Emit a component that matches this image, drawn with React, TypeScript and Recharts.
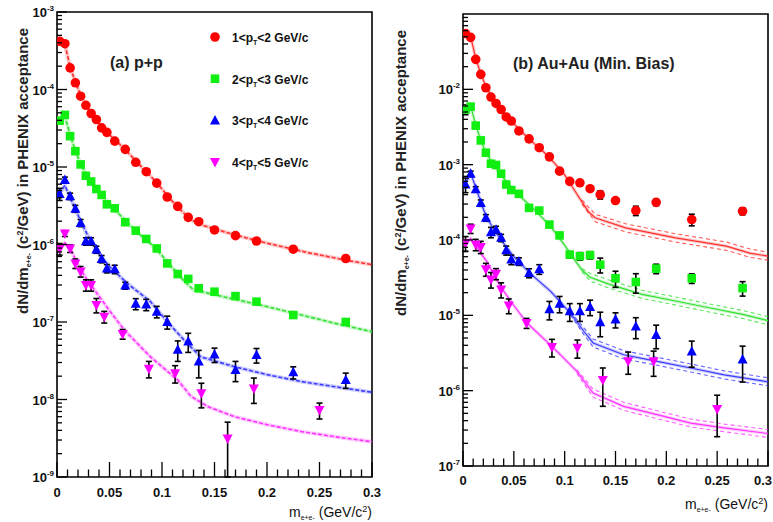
import { ComposedChart, Scatter, Line, XAxis, YAxis, ErrorBar, ReferenceArea } from "recharts";

// [x, y, errLow?, errHigh?]
type Pt = [number, number, number?, number?];
type CurvePt = [number, number];
type BandPt = [number, number, number];

const FONT = "'Liberation Sans', Arial, Helvetica, sans-serif";

const X_TICKS = [
  0, 0.01, 0.02, 0.03, 0.04, 0.05, 0.06, 0.07, 0.08, 0.09, 0.1, 0.11, 0.12, 0.13, 0.14, 0.15,
  0.16, 0.17, 0.18, 0.19, 0.2, 0.21, 0.22, 0.23, 0.24, 0.25, 0.26, 0.27, 0.28, 0.29, 0.3,
];
const MANTISSAS = [1, 2, 3, 4, 5, 6, 7, 8, 9];
const PP_DECADES = [-9, -8, -7, -6, -5, -4];
const AA_DECADES = [-7, -6, -5, -4, -3, -2];
const PP_Y_TICKS = [...PP_DECADES.flatMap((d) => MANTISSAS.map((m) => m * 10 ** d)), 1e-3];
const AA_Y_TICKS = AA_DECADES.flatMap((d) => MANTISSAS.map((m) => m * 10 ** d));

const PT_BINS = [
  ["1", "2"],
  ["2", "3"],
  ["3", "4"],
  ["4", "5"],
];

// ---------- p+p ----------
const PP_RED: Pt[] = [
  [0.0025, 4.2e-4], [0.0075, 3.9e-4], [0.0125, 1.9e-4], [0.0175, 1.22e-4], [0.0225, 8.2e-5],
  [0.0275, 6.25e-5], [0.0325, 4.9e-5], [0.0375, 4.1e-5], [0.0425, 3.2e-5], [0.0475, 2.8e-5],
  [0.055, 2.16e-5], [0.065, 1.69e-5], [0.075, 1.15e-5], [0.085, 8.7e-6], [0.095, 6.2e-6],
  [0.105, 4.1e-6], [0.115, 3.1e-6], [0.125, 2.24e-6], [0.135, 1.97e-6], [0.15, 1.54e-6],
  [0.17, 1.3e-6], [0.19, 1.11e-6], [0.225, 8.7e-7], [0.275, 6.6e-7],
];
const PP_GREEN: Pt[] = [
  [0.0025, 3.96e-5], [0.0075, 4.7e-5], [0.0125, 2.5e-5], [0.0175, 1.6e-5], [0.0225, 1.08e-5],
  [0.0275, 7.7e-6], [0.0325, 6.5e-6], [0.0375, 5.2e-6], [0.0425, 4.36e-6], [0.0475, 3.3e-6],
  [0.055, 2.93e-6], [0.065, 1.94e-6], [0.075, 1.51e-6], [0.085, 1.18e-6], [0.095, 8.9e-7],
  [0.105, 5.7e-7], [0.115, 4.16e-7], [0.125, 3.6e-7], [0.135, 2.72e-7], [0.15, 2.46e-7],
  [0.17, 2.16e-7], [0.19, 1.83e-7], [0.225, 1.23e-7], [0.275, 1.0e-7],
];
const PP_BLUE: Pt[] = [
  [0.0025, 4.5e-6, 8e-7], [0.0075, 6.8e-6, 6e-7], [0.0125, 4.2e-6, 4e-7], [0.0175, 2.9e-6, 3e-7],
  [0.0225, 1.9e-6, 2e-7], [0.0275, 1.1e-6, 1.2e-7], [0.0325, 1.1e-6, 1.2e-7], [0.0375, 8.6e-7, 9e-8],
  [0.0425, 6.5e-7, 7e-8], [0.0475, 4.9e-7, 6e-8], [0.055, 4.8e-7, 6e-8], [0.065, 2.95e-7, 3e-8],
  [0.075, 1.72e-7, 2.8e-8], [0.085, 1.68e-7, 2.8e-8], [0.095, 1.36e-7, 2.3e-8], [0.105, 1.0e-7, 1.9e-8],
  [0.115, 4.4e-8, 1.3e-8], [0.125, 5.6e-8, 1.55e-8], [0.135, 3.1e-8, 1.2e-8], [0.15, 3.8e-8, 8e-9],
  [0.17, 2.4e-8, 7e-9], [0.19, 3.75e-8, 8e-9], [0.225, 2.24e-8, 4e-9], [0.275, 1.79e-8, 4e-9],
];
const PP_MAGENTA: Pt[] = [
  [0.0025, 8.8e-7, 1.5e-7], [0.0075, 1.39e-6, 1.2e-7], [0.0125, 8.9e-7, 1e-7], [0.0175, 5.7e-7, 8e-8],
  [0.0225, 4.5e-7, 7e-8], [0.0275, 3.0e-7, 5e-8], [0.0325, 3.0e-7, 5e-8], [0.0375, 1.66e-7, 3.5e-8],
  [0.045, 1.17e-7, 2e-8], [0.0625, 7.0e-8, 1e-8], [0.0875, 2.5e-8, 6e-9], [0.1125, 2.18e-8, 5.5e-9],
  [0.1375, 1.2e-8, 4.2e-9], [0.1625, 3.15e-9, 2.15e-9, 1.95e-9], [0.1875, 1.39e-8, 5e-9],
  [0.25, 7.3e-9, 1.7e-9],
];

const PP_RED_CURVE: CurvePt[] = [
  [0.0025, 4.1e-4], [0.0075, 3.85e-4], [0.0125, 1.95e-4], [0.0175, 1.25e-4], [0.0225, 8.5e-5],
  [0.03, 5.6e-5], [0.04, 3.7e-5], [0.05, 2.6e-5], [0.06, 1.95e-5], [0.07, 1.42e-5], [0.08, 1.02e-5],
  [0.09, 7.4e-6], [0.1, 5.2e-6], [0.11, 3.6e-6], [0.12, 2.6e-6], [0.13, 2.0e-6], [0.14, 1.75e-6],
  [0.16, 1.45e-6], [0.18, 1.22e-6], [0.2, 1.04e-6], [0.22, 9.0e-7], [0.24, 7.8e-7], [0.26, 6.9e-7],
  [0.28, 6.1e-7], [0.3, 5.5e-7],
];
const PP_GREEN_CURVE: CurvePt[] = [
  [0.0025, 3.9e-5], [0.0075, 4.5e-5], [0.0125, 2.6e-5], [0.0175, 1.6e-5], [0.0225, 1.1e-5],
  [0.03, 7.0e-6], [0.04, 4.8e-6], [0.05, 3.3e-6], [0.06, 2.4e-6], [0.07, 1.75e-6], [0.08, 1.3e-6],
  [0.09, 1.0e-6], [0.1, 7.2e-7], [0.11, 5.0e-7], [0.12, 3.5e-7], [0.13, 2.6e-7], [0.15, 2.25e-7],
  [0.17, 1.95e-7], [0.2, 1.58e-7], [0.233, 1.23e-7], [0.265, 9.6e-8], [0.3, 7.5e-8],
];
const PP_BLUE_CURVE: CurvePt[] = [
  [0.0025, 4.5e-6], [0.0075, 5.8e-6], [0.0125, 4.0e-6], [0.0175, 2.9e-6], [0.0225, 2.0e-6],
  [0.03, 1.25e-6], [0.04, 7.6e-7], [0.05, 5.2e-7], [0.067, 3.15e-7], [0.089, 1.83e-7],
  [0.108, 9.1e-8], [0.124, 5.3e-8], [0.137, 3.55e-8], [0.169, 2.65e-8], [0.201, 2.08e-8],
  [0.233, 1.7e-8], [0.265, 1.46e-8], [0.3, 1.24e-8],
];
const PP_MAGENTA_CURVE: CurvePt[] = [
  [0.0025, 8.7e-7], [0.0075, 1.05e-6], [0.0125, 9.0e-7], [0.019, 5.8e-7], [0.028, 3.6e-7],
  [0.038, 2.35e-7], [0.05, 1.4e-7], [0.064, 7.9e-8], [0.089, 3.55e-8], [0.115, 1.78e-8],
  [0.1275, 1.1e-8], [0.1435, 8.1e-9], [0.169, 6.0e-9], [0.201, 4.7e-9], [0.233, 3.85e-9],
  [0.265, 3.3e-9], [0.3, 2.85e-9],
];

// ---------- Au+Au ----------
const AA_RED: Pt[] = [
  [0.0025, 5.5e-2], [0.0075, 4.9e-2], [0.0125, 2.5e-2], [0.0175, 1.58e-2], [0.0225, 1.05e-2],
  [0.0275, 7.9e-3], [0.0325, 6.5e-3], [0.0375, 5.4e-3], [0.0425, 4.3e-3], [0.0475, 3.8e-3],
  [0.055, 2.8e-3], [0.065, 2.2e-3], [0.075, 1.68e-3], [0.085, 1.27e-3], [0.095, 8.2e-4],
  [0.105, 6.0e-4], [0.115, 5.75e-4], [0.125, 4.8e-4], [0.135, 4.0e-4, 5e-5], [0.15, 3.34e-4],
  [0.17, 2.46e-4, 3.5e-5], [0.19, 3.16e-4, 3e-5], [0.225, 1.87e-4, 3.3e-5], [0.275, 2.41e-4, 2.5e-5],
];
const AA_GREEN: Pt[] = [
  [0.0025, 5.4e-3, 8e-4], [0.0075, 5.9e-3], [0.0125, 3.3e-3], [0.0175, 2.1e-3], [0.0225, 1.44e-3],
  [0.0275, 1.03e-3], [0.0325, 9.9e-4], [0.0375, 7.6e-4], [0.0425, 5.45e-4], [0.0475, 4.6e-4],
  [0.055, 4.1e-4], [0.065, 2.67e-4], [0.075, 2.46e-4], [0.085, 1.6e-4], [0.095, 1.15e-4],
  [0.105, 6.4e-5, 6e-6], [0.115, 6.1e-5, 7e-6], [0.125, 6.3e-5, 7e-6], [0.135, 4.7e-5, 1.05e-5],
  [0.15, 3.1e-5, 7.5e-6], [0.17, 2.77e-5, 8e-6], [0.19, 4.17e-5, 6e-6], [0.225, 3.1e-5, 4.5e-6],
  [0.275, 2.3e-5, 5e-6],
];
const AA_BLUE: Pt[] = [
  [0.0025, 5.45e-4, 1.2e-4], [0.0075, 7.6e-4, 6e-5], [0.0125, 4.7e-4, 4e-5], [0.0175, 3.1e-4, 3e-5],
  [0.0225, 1.97e-4, 2e-5], [0.0275, 1.27e-4, 2e-5], [0.0325, 1.37e-4, 1.5e-5], [0.0375, 1.07e-4, 1.2e-5],
  [0.0425, 7.3e-5, 1e-5], [0.0475, 5.5e-5, 8e-6], [0.055, 5.2e-5, 6e-6], [0.065, 3.65e-5, 5e-6],
  [0.075, 4.1e-5, 6e-6], [0.085, 1.2e-5, 3.3e-6], [0.095, 1.43e-5, 3.5e-6], [0.105, 1.13e-5, 3e-6],
  [0.115, 1.13e-5, 3e-6], [0.125, 1.29e-5, 3e-6], [0.135, 8.1e-6, 2.9e-6], [0.15, 8.8e-6, 2e-6],
  [0.17, 7.1e-6, 2.2e-6], [0.19, 5.5e-6, 1.9e-6], [0.225, 3.3e-6, 1.25e-6], [0.275, 2.6e-6, 1.3e-6],
];
const AA_MAGENTA: Pt[] = [
  [0.0025, 9.1e-5, 2e-5], [0.0075, 1.42e-4, 2e-5], [0.0125, 8.7e-5, 1.5e-5], [0.0175, 8.1e-5, 1.5e-5],
  [0.0225, 4.1e-5, 8e-6], [0.0275, 3.0e-5, 7e-6], [0.0325, 3.57e-5, 6e-6], [0.0375, 2.2e-5, 5e-6],
  [0.045, 1.35e-5, 3e-6], [0.0625, 7.9e-6, 1.2e-6], [0.0875, 3.8e-6, 1e-6], [0.1125, 3.7e-6, 1e-6],
  [0.1375, 1.39e-6, 7.7e-7, 6.1e-7], [0.1625, 2.45e-6, 8e-7], [0.1875, 2.45e-6, 9e-7],
  [0.25, 5.7e-7, 3.25e-7, 3.0e-7],
];

const AA_RED_CURVE: CurvePt[] = [
  [0.0025, 5.5e-2], [0.0075, 5.0e-2], [0.0125, 2.6e-2], [0.0175, 1.6e-2], [0.0225, 1.1e-2],
  [0.03, 7.3e-3], [0.04, 4.9e-3], [0.05, 3.5e-3], [0.06, 2.55e-3], [0.07, 1.9e-3], [0.08, 1.45e-3],
  [0.09, 1.05e-3], [0.1, 7.3e-4], [0.11, 4.5e-4], [0.117, 3.2e-4], [0.1237, 2.35e-4],
  [0.13, 1.97e-4], [0.16, 1.45e-4], [0.209, 1.07e-4], [0.259, 8.3e-5], [0.282, 6.7e-5], [0.3, 6.1e-5],
];
const AA_RED_BAND: BandPt[] = [
  [0.117, 3.0e-4, 3.4e-4], [0.13, 1.75e-4, 2.2e-4], [0.16, 1.28e-4, 1.64e-4], [0.209, 9.4e-5, 1.21e-4],
  [0.259, 7.3e-5, 9.4e-5], [0.282, 5.9e-5, 7.6e-5], [0.3, 5.4e-5, 6.9e-5],
];
const AA_GREEN_CURVE: CurvePt[] = [
  [0.0025, 5.4e-3], [0.0075, 6.0e-3], [0.0125, 3.4e-3], [0.0175, 2.1e-3], [0.0225, 1.45e-3],
  [0.03, 1.0e-3], [0.04, 6.6e-4], [0.05, 4.6e-4], [0.06, 3.4e-4], [0.07, 2.55e-4], [0.08, 1.85e-4],
  [0.09, 1.3e-4], [0.1, 8.5e-5], [0.105, 6.8e-5], [0.11, 5.4e-5], [0.117, 4.0e-5], [0.125, 3.2e-5],
  [0.1435, 2.6e-5], [0.176, 1.9e-5], [0.209, 1.55e-5], [0.242, 1.26e-5], [0.275, 1.03e-5], [0.3, 8.5e-6],
];
const AA_GREEN_BAND: BandPt[] = [
  [0.117, 3.8e-5, 4.2e-5], [0.125, 2.85e-5, 3.6e-5], [0.1435, 2.3e-5, 2.95e-5], [0.176, 1.68e-5, 2.15e-5],
  [0.209, 1.37e-5, 1.75e-5], [0.242, 1.11e-5, 1.42e-5], [0.275, 9.1e-6, 1.16e-5], [0.3, 7.5e-6, 9.6e-6],
];
const AA_BLUE_CURVE: CurvePt[] = [
  [0.0025, 5.5e-4], [0.0075, 7.8e-4], [0.0125, 5.0e-4], [0.0175, 3.2e-4], [0.0225, 2.1e-4],
  [0.03, 1.4e-4], [0.04, 9.0e-5], [0.05, 6.0e-5], [0.066, 3.6e-5], [0.086, 2.1e-5], [0.1056, 1.07e-5],
  [0.119, 6.1e-6], [0.128, 4.3e-6], [0.158, 3.0e-6], [0.191, 2.45e-6], [0.224, 2.0e-6],
  [0.257, 1.62e-6], [0.3, 1.31e-6],
];
const AA_BLUE_BAND: BandPt[] = [
  [0.1056, 1.02e-5, 1.12e-5], [0.119, 5.5e-6, 6.8e-6], [0.128, 3.8e-6, 4.85e-6], [0.158, 2.65e-6, 3.4e-6],
  [0.191, 2.17e-6, 2.77e-6], [0.224, 1.77e-6, 2.26e-6], [0.257, 1.43e-6, 1.83e-6], [0.3, 1.16e-6, 1.48e-6],
];
const AA_MAGENTA_CURVE: CurvePt[] = [
  [0.0025, 9.0e-5], [0.0075, 1.05e-4], [0.0125, 8.5e-5], [0.018, 6.5e-5], [0.0234, 5.2e-5],
  [0.03, 3.5e-5], [0.038, 2.3e-5], [0.05, 1.35e-5], [0.063, 7.9e-6], [0.089, 3.7e-6], [0.112, 1.8e-6],
  [0.128, 9.3e-7], [0.158, 6.2e-7], [0.191, 4.8e-7], [0.224, 3.7e-7], [0.257, 3.2e-7], [0.3, 2.7e-7],
];
const AA_MAGENTA_BAND: BandPt[] = [
  [0.112, 1.7e-6, 1.9e-6], [0.128, 8.2e-7, 1.05e-6], [0.158, 5.5e-7, 7.0e-7], [0.191, 4.25e-7, 5.4e-7],
  [0.224, 3.3e-7, 4.2e-7], [0.257, 2.85e-7, 3.6e-7], [0.3, 2.4e-7, 3.05e-7],
];

type Kind = "circle" | "square" | "up" | "down";

const KINDS: Kind[] = ["circle", "square", "up", "down"];
const MARKER_COLORS = ["#ff0000", "#11ee11", "#0000ff", "#ff00ff"];
const CURVE_COLORS = ["#ff3030", "#33e033", "#3c3cff", "#ff33ff"];

function Marker({ cx, cy, kind, color }: { cx: number; cy: number; kind: Kind; color: string }) {
  if (cx == null || cy == null || isNaN(cx) || isNaN(cy)) return null;
  if (kind === "circle") return <circle cx={cx} cy={cy} r={4.8} fill={color} />;
  if (kind === "square") return <rect x={cx - 4.3} y={cy - 4.3} width={8.6} height={8.6} fill={color} />;
  if (kind === "up")
    return <polygon points={`${cx},${cy - 5.5} ${cx - 5},${cy + 4} ${cx + 5},${cy + 4}`} fill={color} />;
  return <polygon points={`${cx},${cy + 5.5} ${cx - 5},${cy - 4} ${cx + 5},${cy - 4}`} fill={color} />;
}

const toRows = (pts: Pt[]) =>
  pts.map(([x, y, lo, hi]) => ({ x, y, err: lo === undefined ? undefined : [lo, hi ?? lo] }));
const toCurve = (pts: CurvePt[]) => pts.map(([x, y]) => ({ x, y }));
const toBand = (pts: BandPt[]) => pts.map(([x, lo, hi]) => ({ x, lo, hi }));

function XTick({ x, y, payload, labelDy, endLast }: any) {
  const v = payload.value as number;
  const major = Math.round(v * 100) % 5 === 0;
  const last = endLast && v === X_TICKS[X_TICKS.length - 1];
  return (
    <g>
      <line x1={x} x2={x} y1={y} y2={y - (major ? 15 : 7.5)} stroke="#000" strokeWidth={1.3} />
      {major && (
        <text
          x={last ? x + 4 : x}
          y={y + labelDy}
          textAnchor={last ? "end" : "middle"}
          fontSize={13}
          fontWeight="bold"
          fontFamily={FONT}
          fill="#111"
        >
          {String(v)}
        </text>
      )}
    </g>
  );
}

function YTick({ x, y, payload }: any) {
  const v = payload.value as number;
  const lg = Math.log10(v);
  const e = Math.round(lg);
  const major = Math.abs(lg - e) < 1e-6;
  return (
    <g>
      <line x1={x} x2={x + (major ? 10 : 5)} y1={y} y2={y} stroke="#000" strokeWidth={1.3} />
      {major && (
        <text x={x - 3} y={y + 5} textAnchor="end" fontSize={13} fontWeight="bold" fontFamily={FONT} fill="#111">
          <tspan>10</tspan>
          <tspan dy={-6} fontSize={8}>{`${e}`}</tspan>
        </text>
      )}
    </g>
  );
}

interface SeriesDef {
  points: Pt[];
  curve: CurvePt[];
  band?: BandPt[];
}

interface PanelProps {
  left: number;
  width: number;
  height: number;
  margin: { top: number; right: number; bottom: number; left: number };
  yAxisWidth: number;
  xAxisHeight: number;
  yDomain: [number, number];
  yTicks: number[];
  labelDy: number;
  endLast: boolean;
  series: SeriesDef[];
  banded: boolean;
}

function Panel(p: PanelProps) {
  return (
    <div style={{ position: "absolute", left: p.left, top: 0 }}>
      <ComposedChart width={p.width} height={p.height} margin={p.margin}>
        <XAxis
          type="number"
          dataKey="x"
          domain={[0, 0.3]}
          ticks={X_TICKS}
          interval={0}
          height={p.xAxisHeight}
          axisLine={false}
          tickLine={false}
          tickSize={0}
          tickMargin={0}
          tick={<XTick labelDy={p.labelDy} endLast={p.endLast} />}
          allowDataOverflow
        />
        <YAxis
          type="number"
          dataKey="y"
          scale="log"
          domain={p.yDomain}
          ticks={p.yTicks}
          interval={0}
          width={p.yAxisWidth}
          axisLine={false}
          tickLine={false}
          tickSize={0}
          tickMargin={0}
          tick={<YTick />}
          allowDataOverflow
        />
        <ReferenceArea
          x1={0}
          x2={0.3}
          y1={p.yDomain[0]}
          y2={p.yDomain[1]}
          fill="none"
          stroke="#000"
          strokeWidth={1.6}
          ifOverflow="visible"
        />
        {p.series.map((s, i) => {
          const curve = toCurve(s.curve);
          return [
            <Line
              key={`halo${i}`}
              data={curve}
              dataKey="y"
              type="linear"
              stroke={CURVE_COLORS[i]}
              strokeWidth={p.banded ? 3.5 : 4}
              strokeOpacity={0.25}
              dot={false}
              activeDot={false}
              isAnimationActive={false}
            />,
            <Line
              key={`line${i}`}
              data={curve}
              dataKey="y"
              type="linear"
              stroke={CURVE_COLORS[i]}
              strokeWidth={p.banded ? 1.2 : 1.6}
              strokeDasharray={p.banded ? undefined : "4 2"}
              dot={false}
              activeDot={false}
              isAnimationActive={false}
            />,
            ...(s.band
              ? (["lo", "hi"] as const).map((k) => (
                  <Line
                    key={`${k}${i}`}
                    data={toBand(s.band!)}
                    dataKey={k}
                    type="linear"
                    stroke={CURVE_COLORS[i]}
                    strokeWidth={1.1}
                    strokeOpacity={0.8}
                    strokeDasharray="4 3"
                    dot={false}
                    activeDot={false}
                    isAnimationActive={false}
                  />
                ))
              : []),
          ];
        })}
        {p.series.map((s, i) => (
          <Scatter
            key={`pts${i}`}
            data={toRows(s.points)}
            isAnimationActive={false}
            shape={(sp: any) => <Marker cx={sp.cx} cy={sp.cy} kind={KINDS[i]} color={MARKER_COLORS[i]} />}
          >
            <ErrorBar dataKey="err" direction="y" width={3} stroke="#000" strokeWidth={1.6} />
          </Scatter>
        ))}
      </ComposedChart>
    </div>
  );
}

function YTitle({ x, y }: { x: number; y: number }) {
  return (
    <text
      transform={`translate(${x},${y}) rotate(-90)`}
      textAnchor="end"
      fontSize={15}
      fontWeight="bold"
      fontFamily={FONT}
      fill="#222"
    >
      <tspan>dN/dm</tspan>
      <tspan fontSize={7} dy={3}>e+e-</tspan>
      <tspan dy={-3}>{" (c"}</tspan>
      <tspan fontSize={9} dy={-5}>2</tspan>
      <tspan dy={5}>{"/GeV) in PHENIX acceptance"}</tspan>
    </text>
  );
}

function XTitle({ x, y }: { x: number; y: number }) {
  return (
    <text x={x} y={y} textAnchor="end" fontSize={14} fontFamily={FONT} fill="#111">
      <tspan>m</tspan>
      <tspan fontSize={7} dy={3}>e+e-</tspan>
      <tspan dy={-3}>{" (GeV/c"}</tspan>
      <tspan fontSize={9} dy={-5}>2</tspan>
      <tspan dy={5}>)</tspan>
    </text>
  );
}

export default function App() {
  const pp: SeriesDef[] = [
    { points: PP_RED, curve: PP_RED_CURVE },
    { points: PP_GREEN, curve: PP_GREEN_CURVE },
    { points: PP_BLUE, curve: PP_BLUE_CURVE },
    { points: PP_MAGENTA, curve: PP_MAGENTA_CURVE },
  ];
  const aa: SeriesDef[] = [
    { points: AA_RED, curve: AA_RED_CURVE, band: AA_RED_BAND },
    { points: AA_GREEN, curve: AA_GREEN_CURVE, band: AA_GREEN_BAND },
    { points: AA_BLUE, curve: AA_BLUE_CURVE, band: AA_BLUE_BAND },
    { points: AA_MAGENTA, curve: AA_MAGENTA_CURVE, band: AA_MAGENTA_BAND },
  ];
  return (
    <div style={{ position: "absolute", left: 0, top: 0, width: 773, height: 522, background: "#fff", overflow: "hidden" }}>
      <Panel
        left={0}
        width={390}
        height={522}
        margin={{ top: 12, right: 18, bottom: 0, left: 0 }}
        yAxisWidth={57}
        xAxisHeight={45}
        yDomain={[1e-9, 1e-3]}
        yTicks={PP_Y_TICKS}
        labelDy={20}
        endLast={false}
        series={pp}
        banded={false}
      />
      <Panel
        left={390}
        width={383}
        height={522}
        margin={{ top: 14, right: 5, bottom: 0, left: 0 }}
        yAxisWidth={73}
        xAxisHeight={56}
        yDomain={[1e-7, 0.1]}
        yTicks={AA_Y_TICKS}
        labelDy={19}
        endLast
        series={aa}
        banded
      />
      <svg width={773} height={522} style={{ position: "absolute", left: 0, top: 0, pointerEvents: "none" }}>
        <YTitle x={28} y={28} />
        <YTitle x={406} y={30} />
        <XTitle x={372} y={517} />
        <XTitle x={768} y={509} />
        <text x={110} y={68} fontSize={16} fontWeight="bold" fontFamily={FONT} fill="#222">(a) p+p</text>
        <text x={513} y={69} fontSize={16} fontWeight="bold" fontFamily={FONT} fill="#222">(b) Au+Au (Min. Bias)</text>
        {PT_BINS.map(([lo, hi], i) => {
          const cy = 37 + i * 41.7;
          return (
            <g key={lo}>
              <Marker cx={215} cy={cy} kind={KINDS[i]} color={MARKER_COLORS[i]} />
              <text x={232} y={cy + 5} fontSize={12} fontWeight="bold" fontFamily={FONT} fill="#111">
                <tspan>{`${lo}<p`}</tspan>
                <tspan fontSize={7} dy={3}>T</tspan>
                <tspan dy={-3}>{`<${hi} GeV/c`}</tspan>
              </text>
            </g>
          );
        })}
      </svg>
    </div>
  );
}
